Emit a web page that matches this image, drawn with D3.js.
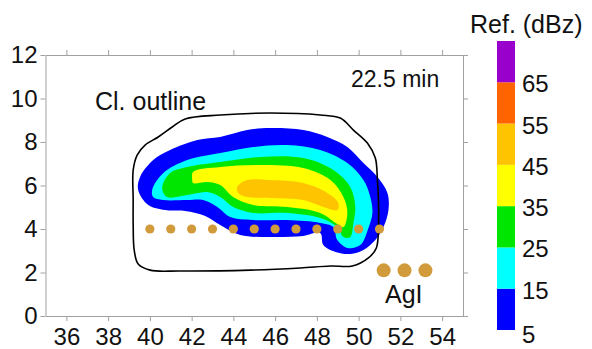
<!DOCTYPE html>
<html>
<head>
<meta charset="utf-8">
<script src="https://cdn.jsdelivr.net/npm/d3@7"></script>
<style>
  body { margin: 0; background: #fff; }
  svg text { font-family: "Liberation Sans", Arial, sans-serif; fill: #111; }
</style>
</head>
<body>
<svg id="chart" width="592" height="349"></svg>
<script>
// x = distance (km), y = height (km)
const xTicks = [36, 38, 40, 42, 44, 46, 48, 50, 52, 54];
const yTicks = [0, 2, 4, 6, 8, 10, 12];

// reflectivity bands (dBZ) and colours for the colour bar
const levels = [5, 15, 25, 35, 45, 55, 65, 75];
const levelColors = ["#0000ff", "#00ffff", "#00e600", "#ffff00", "#ffc400", "#ff6400", "#9a00cc"];
const barLabels = [5, 15, 25, 35, 45, 55, 65];

// contour outlines, [x, y]
const band5 = [[39.44, 5.79], [39.53, 6.39], [40.16, 7.17], [40.97, 7.63], [42.27, 8.09], [43.37, 8.23],
  [44.66, 8.55], [45.77, 8.64], [47.35, 8.55], [48.5, 8.23], [49.46, 7.77], [50.23, 7.03], [50.9, 6.39],
  [51.38, 5.66], [51.43, 4.87], [51.19, 4.09], [50.8, 3.49], [50.23, 3.03], [49.6, 2.85], [48.89, 2.94],
  [48.31, 3.26], [48.16, 3.82], [47.35, 3.68], [45.77, 3.63], [44.33, 3.72], [43.37, 4.18], [42.65, 4.6],
  [41.69, 4.83], [40.73, 4.87], [39.92, 5.1]];
const band15 = [[40.11, 5.79], [40.64, 6.57], [41.79, 7.17], [43.37, 7.49], [44.95, 7.77], [46.58, 7.86],
  [48.16, 7.63], [49.46, 7.03], [50.23, 6.25], [50.56, 5.47], [50.66, 4.74], [50.47, 4.05], [50.08, 3.26],
  [49.46, 3.13], [48.98, 3.49], [48.79, 4.09], [48.16, 4.28], [46.58, 4.41], [44.95, 4.41], [43.85, 4.55],
  [43.23, 5.01], [42.55, 5.33], [41.79, 5.33], [40.64, 5.33], [40.16, 5.47]];
const band25 = [[40.59, 5.89], [40.97, 6.57], [41.79, 6.85], [43.37, 7.08], [45.29, 7.31], [47.35, 7.26],
  [48.79, 6.71], [49.6, 5.93], [49.84, 5.01], [49.75, 4.28], [49.6, 3.63], [49.27, 3.63], [48.98, 4.09],
  [48.16, 4.51], [46.58, 4.74], [44.95, 4.74], [43.99, 5.01], [43.37, 5.47], [42.75, 5.7], [41.79, 5.56],
  [40.83, 5.47]];
const band35 = [[42.03, 6.25], [42.07, 6.62], [43.37, 6.85], [45.29, 6.94], [47.35, 6.8], [48.65, 6.25],
  [49.27, 5.47], [49.46, 4.74], [49.27, 4.09], [48.98, 4.23], [48.16, 4.74], [46.58, 5.01], [44.95, 5.1],
  [43.99, 5.47], [43.37, 6.02], [42.75, 6.16], [42.07, 6.11]];
const band45 = [[44.18, 5.93], [44.66, 6.25], [45.77, 6.25], [47.35, 6.11], [48.5, 5.66], [49.03, 5.2],
  [48.98, 4.87], [48.31, 5.01], [47.35, 5.33], [45.77, 5.43], [44.66, 5.47], [44.23, 5.66]];

const cloudOutline = [[39.2, 5.33], [39.2, 6.71], [39.39, 7.4], [39.77, 7.86], [40.4, 8.23], [41.07, 8.69],
  [41.69, 9.06], [43.37, 9.24], [45.77, 9.33], [48.16, 9.24], [49.12, 9.1], [49.75, 8.55], [50.42, 7.95],
  [50.8, 7.26], [50.9, 6.25], [50.95, 5.33], [50.95, 4.18], [50.85, 3.13], [50.47, 2.67], [49.7, 2.3],
  [48.65, 2.3], [47.21, 2.21], [44.81, 2.11], [41.45, 2.07], [40.01, 2.11], [39.44, 2.39], [39.25, 3.03],
  [39.2, 4.18]];

// seeding track and AgI release points
const trackX = [40, 41, 42, 43, 44, 45, 46, 47, 48, 49, 50, 51];
const trackY = 4;
const agiX = [51.2, 52.2, 53.2];
const agiY = 2.1;

const svg = d3.select("#chart");
const plot = { left: 45.5, right: 463, top: 55, bottom: 316 };

const x = d3.scaleLinear().domain([35, 55]).range([plot.left, plot.right]);
const y = d3.scaleLinear().domain([0, 12]).range([plot.bottom, plot.top]);

const shape = d3.line()
  .x(d => x(d[0]))
  .y(d => y(d[1]))
  .curve(d3.curveCatmullRomClosed.alpha(0.5));

const bands = [band5, band15, band25, band35, band45];
svg.append("g")
  .selectAll("path")
  .data(bands)
  .join("path")
  .attr("d", shape)
  .attr("fill", (d, i) => levelColors[i]);

svg.append("path")
  .attr("d", shape(cloudOutline))
  .attr("fill", "none")
  .attr("stroke", "#000")
  .attr("stroke-width", 1.6);

const dotColor = "#d19b3c";
svg.append("g")
  .selectAll("circle")
  .data(trackX)
  .join("circle")
  .attr("cx", d => x(d))
  .attr("cy", y(trackY))
  .attr("r", 4.6)
  .attr("fill", dotColor);

svg.append("g")
  .selectAll("circle")
  .data(agiX)
  .join("circle")
  .attr("cx", d => x(d))
  .attr("cy", y(agiY))
  .attr("r", 7)
  .attr("fill", dotColor);

// axes on all four sides
function styleAxis(g) {
  g.selectAll("path.domain").attr("stroke", "#a0a0a0");
  g.selectAll(".tick line").attr("stroke", "#a0a0a0");
  g.selectAll("text").style("font-size", "24px").attr("fill", "#111");
}

svg.append("g")
  .attr("transform", `translate(0,${plot.bottom})`)
  .call(d3.axisBottom(x).tickValues(xTicks).tickSize(5).tickPadding(7).tickSizeOuter(0))
  .call(styleAxis);

svg.append("g")
  .attr("transform", `translate(0,${plot.top})`)
  .call(d3.axisTop(x).tickValues(xTicks).tickSize(5).tickFormat("").tickSizeOuter(0))
  .call(styleAxis);

svg.append("g")
  .attr("transform", `translate(${plot.left},0)`)
  .call(d3.axisLeft(y).tickValues(yTicks).tickSize(5).tickPadding(3).tickSizeOuter(0))
  .call(styleAxis);

svg.append("g")
  .attr("transform", `translate(${plot.right},0)`)
  .call(d3.axisRight(y).tickValues(yTicks).tickSize(5).tickFormat("").tickSizeOuter(0))
  .call(styleAxis);

// labels
svg.append("text").attr("x", 95).attr("y", 110).style("font-size", "25px").text("Cl. outline");
svg.append("text").attr("x", 351).attr("y", 87).style("font-size", "23px").text("22.5 min");
svg.append("text").attr("x", 385).attr("y", 303).style("font-size", "25px").text("AgI");

// colour bar
const cb = d3.scaleLinear().domain([5, 75]).range([330, 41]);
const cbX = 497, cbW = 18;
svg.append("g")
  .selectAll("rect")
  .data(levelColors)
  .join("rect")
  .attr("x", cbX)
  .attr("y", (d, i) => cb(levels[i + 1]))
  .attr("width", cbW)
  .attr("height", (d, i) => cb(levels[i]) - cb(levels[i + 1]))
  .attr("fill", d => d);

svg.append("g")
  .selectAll("text")
  .data(barLabels)
  .join("text")
  .attr("x", 522)
  .attr("y", d => cb(d) + (d === 5 ? 13 : 10))
  .style("font-size", "24px")
  .text(d => d);

svg.append("text").attr("x", 470).attr("y", 33).style("font-size", "25px").text("Ref. (dBz)");
</script>
</body>
</html>
